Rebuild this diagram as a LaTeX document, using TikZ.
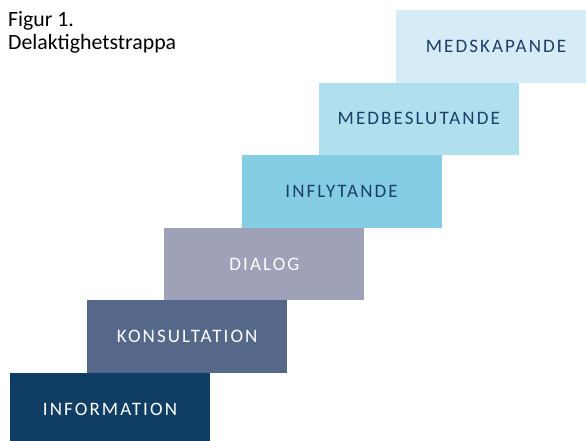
\documentclass[tikz,border=0pt]{standalone}
\usepackage{fontspec}
\setmainfont{Carlito}
\newfontfamily\stairfont[LetterSpace=11]{Carlito}
\usetikzlibrary{positioning}
\definecolor{infocol}{HTML}{0F3D63}
\definecolor{konscol}{HTML}{566889}
\definecolor{dialcol}{HTML}{9EA1B8}
\definecolor{inflcol}{HTML}{84CDE3}
\definecolor{mbescol}{HTML}{B0DFEE}
\definecolor{mskacol}{HTML}{D5EBF6}
\definecolor{textcol}{HTML}{1B3F66}
\begin{document}
\begin{tikzpicture}[x=1pt,y=1pt]
  \tikzstyle{stair} = [rectangle, minimum width=200pt, minimum height=72.6pt, inner sep=0pt, outer sep=0pt, text centered, anchor=south west, font=\stairfont\fontsize{19}{22}\selectfont]
  \tikzstyle{dark} = [stair, text=white]
  \tikzstyle{light} = [stair, text=textcol]
  \useasboundingbox (0,0) rectangle (586,440);

  \node (title) [anchor=north west, align=left, inner sep=0pt, font=\fontsize{21.8}{23.3}\selectfont] at (8,428.5) {Figur 1.\\Delaktighetstrappa};
  \node (information) [dark, fill=infocol] at (10,-5.6) {INFORMATION};
  \node (konsultation) [dark, fill=konscol, xshift=77.2pt] at (information.north west) {KONSULTATION};
  \node (dialog) [dark, fill=dialcol, xshift=77.2pt] at (konsultation.north west) {DIALOG};
  \node (inflytande) [light, fill=inflcol, xshift=77.2pt] at (dialog.north west) {INFLYTANDE};
  \node (medbeslutande) [light, fill=mbescol, xshift=77.2pt] at (inflytande.north west) {MEDBESLUTANDE};
  \node (medskapande) [light, fill=mskacol, xshift=77.2pt] at (medbeslutande.north west) {MEDSKAPANDE};
\end{tikzpicture}
\end{document}
